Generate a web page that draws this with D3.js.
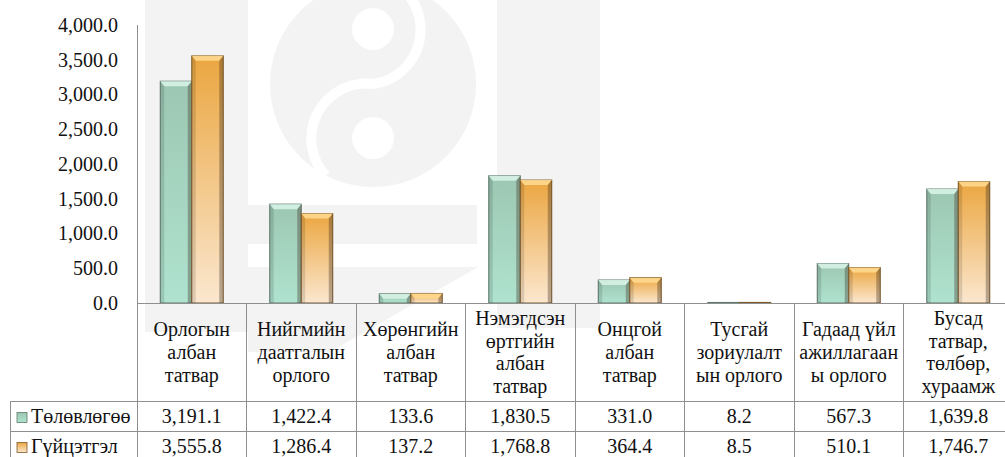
<!DOCTYPE html>
<html>
<head>
<meta charset="utf-8">
<script src="https://cdn.jsdelivr.net/npm/d3@7"></script>
<style>
	body { margin: 0; background: #fff; }
	svg { display: block; }
	svg text { font-family: "Liberation Serif", "DejaVu Serif", serif; }
</style>
</head>
<body>
<div id="chart"></div>
<script>
// Data
const categories = [
	["Орлогын", "албан", "татвар"],
	["Нийгмийн", "даатгалын", "орлого"],
	["Хөрөнгийн", "албан", "татвар"],
	["Нэмэгдсэн", "өртгийн", "албан", "татвар"],
	["Онцгой", "албан", "татвар"],
	["Тусгай", "зориулалт", "ын орлого"],
	["Гадаад үйл", "ажиллагаан", "ы орлого"],
	["Бусад", "татвар,", "төлбөр,", "хураамж"]
];
const seriesNames = ["Төлөвлөгөө", "Гүйцэтгэл"];
const planValues   = [3191.1, 1422.4, 133.6, 1830.5, 331.0, 8.2, 567.3, 1639.8];
const actualValues = [3555.8, 1286.4, 137.2, 1768.8, 364.4, 8.5, 510.1, 1746.7];
const yTicks = [0, 500, 1000, 1500, 2000, 2500, 3000, 3500, 4000];

const W = 1005, H = 457;
const plotLeft = 137, plotRight = 1013, plotTop = 25, plotBase = 303;
const rowY = [303, 401.5, 431.5, 461.5];
const lineColor = "#8f8f8f";
const serif = "'Liberation Serif', 'DejaVu Serif', serif";

const svg = d3.select("#chart").append("svg")
	.attr("width", W).attr("height", H);

// Watermark (faint logo in the background)
const wm = svg.append("g").attr("fill", "#f3f3f3");
wm.append("rect").attr("x", 145).attr("y", 0).attr("width", 103).attr("height", 332);
wm.append("rect").attr("x", 497).attr("y", 0).attr("width", 103).attr("height", 328);
wm.append("circle").attr("cx", 373).attr("cy", 84).attr("r", 103);
wm.append("rect").attr("x", 248).attr("y", 205).attr("width", 229).attr("height", 39);
wm.append("path").attr("d", "M248,267L478,267L330,352L248,352Z");
const wmw = svg.append("g");
wmw.append("path")
	.attr("d", "M373,-25 A55,55 0 0 1 373,84 A55,55 0 0 0 326,176")
	.attr("fill", "none").attr("stroke", "#fff").attr("stroke-width", 10);
wmw.append("circle").attr("cx", 373).attr("cy", 29).attr("r", 21).attr("fill", "#fff");
wmw.append("circle").attr("cx", 373).attr("cy", 138).attr("r", 21).attr("fill", "#fff");

// Scales
const x = d3.scaleBand().domain(d3.range(categories.length)).range([plotLeft, plotRight]);
const xs = d3.scaleBand().domain([0, 1]).range([23.25, x.bandwidth() - 23.25]);
const y = d3.scaleLinear().domain([0, 4000]).range([plotBase, plotTop]);

// Gradients
const defs = svg.append("defs");
const palettes = [
	{ top: "#9cc7b2", bottom: "#afe3cf", hi: "#d6f2e6", edge: "#5e7a6d" },
	{ top: "#eba640", bottom: "#fbe7cf", hi: "#ffd98f", edge: "#7d5a2a" }
];
palettes.forEach((p, i) => {
	const g = defs.append("linearGradient").attr("id", "g" + i)
		.attr("x1", 0).attr("y1", 0).attr("x2", 0).attr("y2", 1);
	g.append("stop").attr("offset", "0%").attr("stop-color", p.top);
	g.append("stop").attr("offset", "100%").attr("stop-color", p.bottom);
});

// Y axis
const axisY = svg.append("g").attr("transform", `translate(${plotLeft},0)`)
	.call(d3.axisLeft(y).tickValues(yTicks).tickSize(0).tickPadding(19).tickFormat(d3.format(",.1f")))
	.attr("font-family", serif).attr("font-size", 20);
axisY.select(".domain").remove();
axisY.selectAll("text").style("font-family", serif).attr("fill", "#111");

// Bars
const series = [planValues, actualValues];
const bars = svg.append("g");
series.forEach((vals, s) => {
	const p = palettes[s];
	vals.forEach((v, i) => {
		const bx = x(i) + xs(s), bw = xs.bandwidth(), by = y(v), bh = plotBase - by;
		const g = bars.append("g");
		g.append("rect").attr("x", bx).attr("y", by).attr("width", bw).attr("height", bh)
			.attr("fill", `url(#g${s})`).attr("stroke", p.edge).attr("stroke-width", 1);
		if (bh > 8) {
			const b = 4;
			g.append("path")
				.attr("d", `M${bx},${by}L${bx + bw},${by}L${bx + bw - b},${by + b + 1}L${bx + b},${by + b + 1}Z`)
				.attr("fill", p.hi).attr("opacity", 0.9);
			g.append("path")
				.attr("d", `M${bx + bw},${by}L${bx + bw},${plotBase}L${bx + bw - b},${plotBase}L${bx + bw - b},${by + b + 1}Z`)
				.attr("fill", "#3a2c1c").attr("opacity", 0.35);
			g.append("path")
				.attr("d", `M${bx},${by}L${bx + b},${by + b + 1}L${bx + b},${plotBase}L${bx},${plotBase}Z`)
				.attr("fill", "#000").attr("opacity", 0.12);
		} else {
			g.append("rect").attr("x", bx + 2).attr("y", by + 1).attr("width", bw - 4).attr("height", Math.max(bh / 3, 0.5))
				.attr("fill", p.hi);
		}
	});
});

// Table grid
const grid = svg.append("g").attr("stroke", lineColor).attr("stroke-width", 1).attr("shape-rendering", "crispEdges");
grid.append("line").attr("x1", plotLeft).attr("x2", plotRight).attr("y1", plotBase).attr("y2", plotBase);
grid.append("line").attr("x1", plotLeft).attr("x2", plotLeft).attr("y1", plotTop).attr("y2", H);
[rowY[1], rowY[2]].forEach(ry => grid.append("line").attr("x1", 10).attr("x2", plotRight).attr("y1", ry).attr("y2", ry));
grid.append("line").attr("x1", 10).attr("x2", 10).attr("y1", rowY[1]).attr("y2", H);
d3.range(1, categories.length + 1).forEach(i => {
	const gx = plotLeft + i * x.bandwidth();
	grid.append("line").attr("x1", gx).attr("x2", gx).attr("y1", plotBase).attr("y2", H);
});

// Category header text
const fmt = d3.format(",.1f");
const header = svg.append("g").attr("font-family", serif).attr("font-size", 20).attr("fill", "#111").attr("text-anchor", "middle");
categories.forEach((lines, i) => {
	const cx = x(i) + x.bandwidth() / 2;
	const lh = 22.6;
	const y0 = 352 - (lines.length - 1) * lh / 2 + 7;
	const t = header.append("text");
	lines.forEach((ln, k) => t.append("tspan").attr("x", cx).attr("y", y0 + k * lh).text(ln));
});

// Value rows with legend keys
const rows = svg.append("g").attr("font-family", serif).attr("font-size", 20).attr("fill", "#111");
series.forEach((vals, s) => {
	const baseline = rowY[s + 1] + 21.5;
	vals.forEach((v, i) => {
		rows.append("text").attr("x", x(i) + x.bandwidth() / 2).attr("y", baseline)
			.attr("text-anchor", "middle").text(fmt(v));
	});
	rows.append("rect").attr("x", 17).attr("y", rowY[s + 1] + 11).attr("width", 10).attr("height", 10)
		.attr("fill", `url(#g${s})`).attr("stroke", palettes[s].edge).attr("stroke-width", 0.8);
	rows.append("text").attr("x", 31).attr("y", baseline).text(seriesNames[s]);
});
</script>
</body>
</html>
